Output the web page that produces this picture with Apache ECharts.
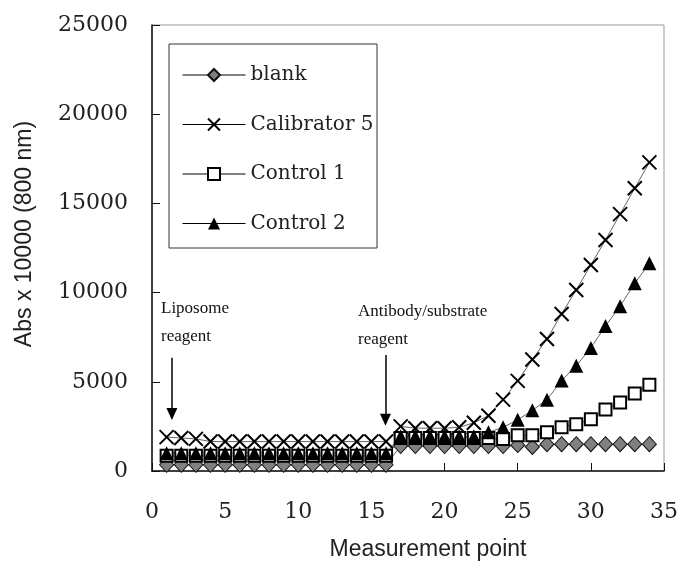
<!DOCTYPE html>
<html><head><meta charset="utf-8">
<script src="https://cdn.jsdelivr.net/npm/echarts@6/dist/echarts.min.js"></script>
<style>html,body{margin:0;padding:0;background:#fff}#main{width:681px;height:566px}</style>
</head><body><div id="main"></div>
<script>
// Measurement points
const points = [1,2,3,4,5,6,7,8,9,10,11,12,13,14,15,16,17,18,19,20,21,22,23,24,25,26,27,28,29,30,31,32,33,34];
// Series values (Abs x 10000)
const blank = [350,350,350,350,350,350,350,350,350,350,350,350,350,350,350,350,
  1400,1400,1400,1400,1400,1400,1400,1400,1450,1350,1500,1500,1500,1500,1500,1500,1500,1500];
const calibrator5 = [1900,1850,1800,1650,1650,1650,1650,1650,1650,1650,1650,1650,1650,1650,1650,1650,
  2500,2400,2400,2400,2450,2700,3100,4000,5050,6250,7400,8800,10150,11550,12950,14400,15850,17300];
const control1 = [850,850,850,850,850,850,850,850,850,850,850,850,850,850,850,850,
  1850,1850,1850,1850,1850,1850,1850,1800,2000,2000,2170,2450,2620,2900,3450,3840,4340,4840];
const control2 = [1000,1000,1000,1000,1000,1000,1000,1000,1000,1000,1000,1000,1000,1000,1000,1000,
  1950,1950,1950,1950,1950,1950,2170,2450,2870,3400,4000,5070,5900,6900,8130,9240,10520,11640];
const seriesNames = ['blank','Calibrator 5','Control 1','Control 2'];
const xTicks = [0,5,10,15,20,25,30,35];
const yTicks = [0,5000,10000,15000,20000,25000];
// Annotation arrows [x, yStart, yEnd]
const arrowLiposome = [1.36, 6350, 3200];
const arrowAntibody = [15.96, 6500, 2870];

const pair = arr => points.map((x, i) => [x, arr[i]]);
const serifNum = '"DejaVu Serif"';

const chart = echarts.init(document.getElementById('main'), null, {renderer: 'canvas'});
const lineStyle = {color: '#666', width: 1};
chart.setOption({
  animation: false,
  backgroundColor: '#fff',
  grid: {left: 152, right: 16, top: 25, bottom: 92, show: true, borderColor: '#999', borderWidth: 1},
  xAxis: {
    type: 'value', min: xTicks[0], max: xTicks[xTicks.length - 1], interval: 5,
    name: 'Measurement point', nameLocation: 'middle', nameGap: 67,
    nameTextStyle: {fontFamily: '"Liberation Sans", Arial', fontSize: 23, color: '#222', padding: [0, 0, 0, 40]},
    axisLine: {lineStyle: {color: '#111', width: 1.5}},
    axisTick: {inside: true, length: 8, lineStyle: {color: '#111', width: 1}},
    axisLabel: {margin: 30, fontFamily: serifNum, fontSize: 22, color: '#222', formatter: v => String(v)},
    splitLine: {show: false}
  },
  yAxis: {
    type: 'value', min: yTicks[0], max: yTicks[yTicks.length - 1], interval: 5000,
    name: 'Abs x 10000 (800 nm)', nameLocation: 'middle', nameGap: 116,
    nameTextStyle: {fontFamily: '"Liberation Sans", Arial', fontSize: 23, color: '#222', padding: [0, 0, 0, 28]},
    axisLine: {lineStyle: {color: '#111', width: 1.5}},
    axisTick: {inside: true, length: 8, lineStyle: {color: '#111', width: 1}},
    axisLabel: {margin: 24, fontFamily: serifNum, fontSize: 22, color: '#222', formatter: v => String(v)},
    splitLine: {show: false}
  },
  legend: {
    orient: 'vertical', left: 182, top: 65, padding: 0,
    itemWidth: 63, itemHeight: 15, itemGap: 29.5,
    data: seriesNames,
    lineStyle: {color: '#000', width: 1},
    textStyle: {fontFamily: serifNum, fontSize: 20, color: '#222'},
    selectedMode: false
  },
  graphic: [
    {type: 'rect', shape: {x: 169, y: 44, width: 208, height: 204}, style: {fill: 'none', stroke: '#333', lineWidth: 1}, silent: true},
    {type: 'text', x: 161, y: 309, style: {text: 'Liposome', font: '17px "Liberation Serif"', fill: '#111', verticalAlign: 'middle'}},
    {type: 'text', x: 161, y: 337, style: {text: 'reagent', font: '17px "Liberation Serif"', fill: '#111', verticalAlign: 'middle'}},
    {type: 'text', x: 358, y: 312, style: {text: 'Antibody/substrate', font: '17px "Liberation Serif"', fill: '#111', verticalAlign: 'middle'}},
    {type: 'text', x: 358, y: 340, style: {text: 'reagent', font: '17px "Liberation Serif"', fill: '#111', verticalAlign: 'middle'}}
  ],
  series: [
    {
      name: seriesNames[0], type: 'line', data: pair(blank),
      symbol: 'diamond', symbolSize: [14, 15], lineStyle,
      itemStyle: {color: '#808080', borderColor: '#111', borderWidth: 1},
      markLine: {
        silent: true, animation: false,
        symbol: ['none', 'triangle'], symbolSize: [11, 12],
        label: {show: false},
        lineStyle: {color: '#000', width: 1.5, type: 'solid'},
        emphasis: {disabled: true},
        data: [
          [{coord: [arrowLiposome[0], arrowLiposome[1]]}, {coord: [arrowLiposome[0], arrowLiposome[2]]}],
          [{coord: [arrowAntibody[0], arrowAntibody[1]]}, {coord: [arrowAntibody[0], arrowAntibody[2]]}]
        ]
      }
    },
    {
      name: seriesNames[1], type: 'line', data: pair(calibrator5),
      symbol: 'path://M0,0L20,20M20,0L0,20', symbolSize: 14, lineStyle,
      itemStyle: {color: '#000', borderColor: '#000', borderWidth: 2}
    },
    {
      name: seriesNames[2], type: 'line', data: pair(control1),
      symbol: 'rect', symbolSize: 12, lineStyle,
      itemStyle: {color: '#fff', borderColor: '#000', borderWidth: 2}
    },
    {
      name: seriesNames[3], type: 'line', data: pair(control2),
      symbol: 'triangle', symbolSize: [14, 14], lineStyle,
      itemStyle: {color: '#000', borderColor: '#000', borderWidth: 0}
    }
  ]
});
</script>
</body></html>
